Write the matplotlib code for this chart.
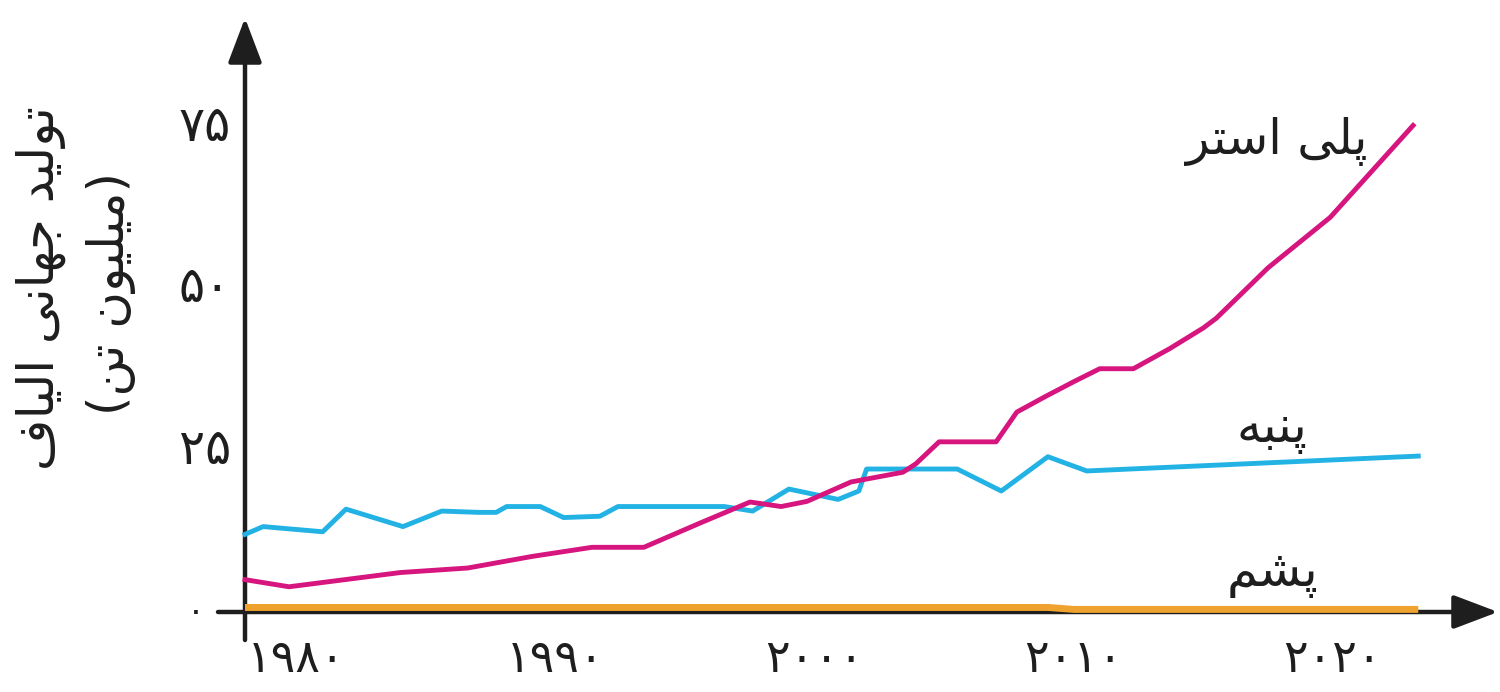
import matplotlib
matplotlib.use('Agg')
import matplotlib.pyplot as plt

# data (million tonnes)
poly_years = [1980, 1981.7, 1986.0, 1988.6, 1991.1, 1993.4, 1995.4, 1997.6, 1999.5,
              2000.7, 2001.7, 2003.4, 2005.4, 2005.9, 2006.8, 2009.0, 2009.8, 2010.9,
              2012.0, 2013.0, 2014.3, 2015.7, 2017.0, 2017.5, 2019.5, 2021.9, 2025.1]
poly_vals = [5.0, 3.9, 6.1, 6.8, 8.6, 10.0, 10.0, 13.8, 17.0,
             16.3, 17.1, 20.1, 21.6, 22.9, 26.3, 26.3, 30.9, 33.3,
             35.6, 37.6, 37.6, 40.7, 43.9, 45.4, 53.2, 61.0, 75.2]

cot_years = [1980, 1980.7, 1983.0, 1983.9, 1986.1, 1987.6, 1989.0, 1989.7, 1990.1,
             1991.4, 1992.3, 1993.7, 1994.4, 1998.5, 1999.6, 2001.0, 2002.9, 2003.7,
             2004.0, 2007.5, 2009.2, 2011.0, 2012.5, 2025.3]
cot_vals = [12.0, 13.2, 12.4, 15.9, 13.2, 15.6, 15.4, 15.4, 16.3,
            16.3, 14.6, 14.8, 16.3, 16.3, 15.6, 19.0, 17.4, 18.7,
            22.1, 22.1, 18.7, 24.0, 21.8, 24.1]

wool_years = [1980, 2011, 2012, 2025.3]
wool_vals = [0.7, 0.7, 0.4, 0.4]

x_ticks = [1980, 1990, 2000, 2010, 2020]
y_ticks = [0, 25, 50, 75]
fa_digits = str.maketrans('0123456789', '۰۱۲۳۴۵۶۷۸۹')

label_poly = 'پلی استر'
label_cot = 'پنبه'
label_wool = 'پشم'
ylabel_1 = 'تولید جهانی الیاف'
ylabel_2 = 'میلیون تن'

# matplotlib has no arabic shaping, so do it by hand with presentation forms
FORMS = {
    'ا': ('\uFE8D', '\uFE8E'), 'د': ('\uFEA9', '\uFEAA'), 'ر': ('\uFEAD', '\uFEAE'),
    'و': ('\uFEED', '\uFEEE'),
    'ب': ('\uFE8F', '\uFE90', '\uFE91', '\uFE92'), 'پ': ('\uFB56', '\uFB57', '\uFB58', '\uFB59'),
    'ت': ('\uFE95', '\uFE96', '\uFE97', '\uFE98'), 'ج': ('\uFE9D', '\uFE9E', '\uFE9F', '\uFEA0'),
    'س': ('\uFEB1', '\uFEB2', '\uFEB3', '\uFEB4'), 'ش': ('\uFEB5', '\uFEB6', '\uFEB7', '\uFEB8'),
    'ف': ('\uFED1', '\uFED2', '\uFED3', '\uFED4'), 'ل': ('\uFEDD', '\uFEDE', '\uFEDF', '\uFEE0'),
    'م': ('\uFEE1', '\uFEE2', '\uFEE3', '\uFEE4'), 'ن': ('\uFEE5', '\uFEE6', '\uFEE7', '\uFEE8'),
    'ه': ('\uFEE9', '\uFEEA', '\uFEEB', '\uFEEC'), 'ی': ('\uFBFC', '\uFBFD', '\uFBFE', '\uFBFF'),
}


def fa(text):
    out = []
    for i, c in enumerate(text):
        if c not in FORMS:
            out.append(c)
            continue
        prev = text[i - 1] if i > 0 else ''
        nxt = text[i + 1] if i + 1 < len(text) else ''
        join_prev = prev in FORMS and len(FORMS[prev]) == 4
        join_next = len(FORMS[c]) == 4 and nxt in FORMS
        f = FORMS[c]
        if join_prev and join_next:
            out.append(f[3])
        elif join_prev:
            out.append(f[1])
        elif join_next:
            out.append(f[2])
        else:
            out.append(f[0])
    return ''.join(reversed(out))


plt.rcParams['font.family'] = ['DejaVu Sans']
ink = '#1e1e1e'

fig = plt.figure(figsize=(15, 6.92), dpi=100)
ax = fig.add_axes([0, 0, 1, 1])
ax.axis('off')
# pixel-like frame: 1980 at x=245, 25.9 px / year ; 0 at y=612, 6.47 px / unit
px_year, px_unit = 25.9, 6.47
ax.set_xlim(1980 - 245 / px_year, 1980 + 1255 / px_year)
ax.set_ylim(-(692 - 612) / px_unit, 612 / px_unit)

col_poly = '#d6157f'
col_cot = '#22b2e4'
col_wool = '#efa22e'

# axes with arrows
arrow = dict(arrowstyle='-|>,head_length=0.95,head_width=0.36', lw=3.2,
             color=ink, mutation_scale=29, shrinkA=0, shrinkB=0)
ax.annotate('', xy=(1980, 594 / px_unit), xytext=(1980, -28 / px_unit), arrowprops=arrow)
ax.annotate('', xy=(1980 + 1253 / px_year, 0), xytext=(1980 - 27 / px_year, 0),
            arrowprops=arrow)

ax.plot(wool_years, wool_vals, color=col_wool, lw=5, solid_capstyle='butt', zorder=3)
ax.plot(cot_years, cot_vals, color=col_cot, lw=3.5, zorder=4)
ax.plot(poly_years, poly_vals, color=col_poly, lw=3.5, zorder=5)

for t in x_ticks:
    ax.text(t + 2 / px_year, -60 / px_unit, str(t).translate(fa_digits), ha='left',
            va='baseline', fontsize=33, color=ink)
for v in y_ticks:
    if v == 0:
        ax.text(1980 - 40 / px_year, v, '۰', ha='right', va='center', fontsize=24, color=ink)
    else:
        ax.text(1980 - 14 / px_year, v, str(v).translate(fa_digits), ha='right',
                va='center', fontsize=35, color=ink)

ax.text(1980 - 204 / px_year, 324 / px_unit, fa(ylabel_1), rotation=90,
        ha='center', va='center', fontsize=36, color=ink)
ax.text(1980 - 134 / px_year, 318 / px_unit, '(' + fa(ylabel_2) + ')', rotation=90,
        ha='center', va='center', fontsize=36, color=ink)

ax.text(1980 + 1122 / px_year, 470 / px_unit, fa(label_poly), ha='right', va='center',
        fontsize=35, color=ink)
ax.text(1980 + 1027 / px_year, 182 / px_unit, fa(label_cot), ha='center', va='center',
        fontsize=36, color=ink)
ax.text(1980 + 1027 / px_year, 38 / px_unit, fa(label_wool), ha='center', va='center',
        fontsize=36, color=ink)

fig.savefig('out.png', dpi=100)
